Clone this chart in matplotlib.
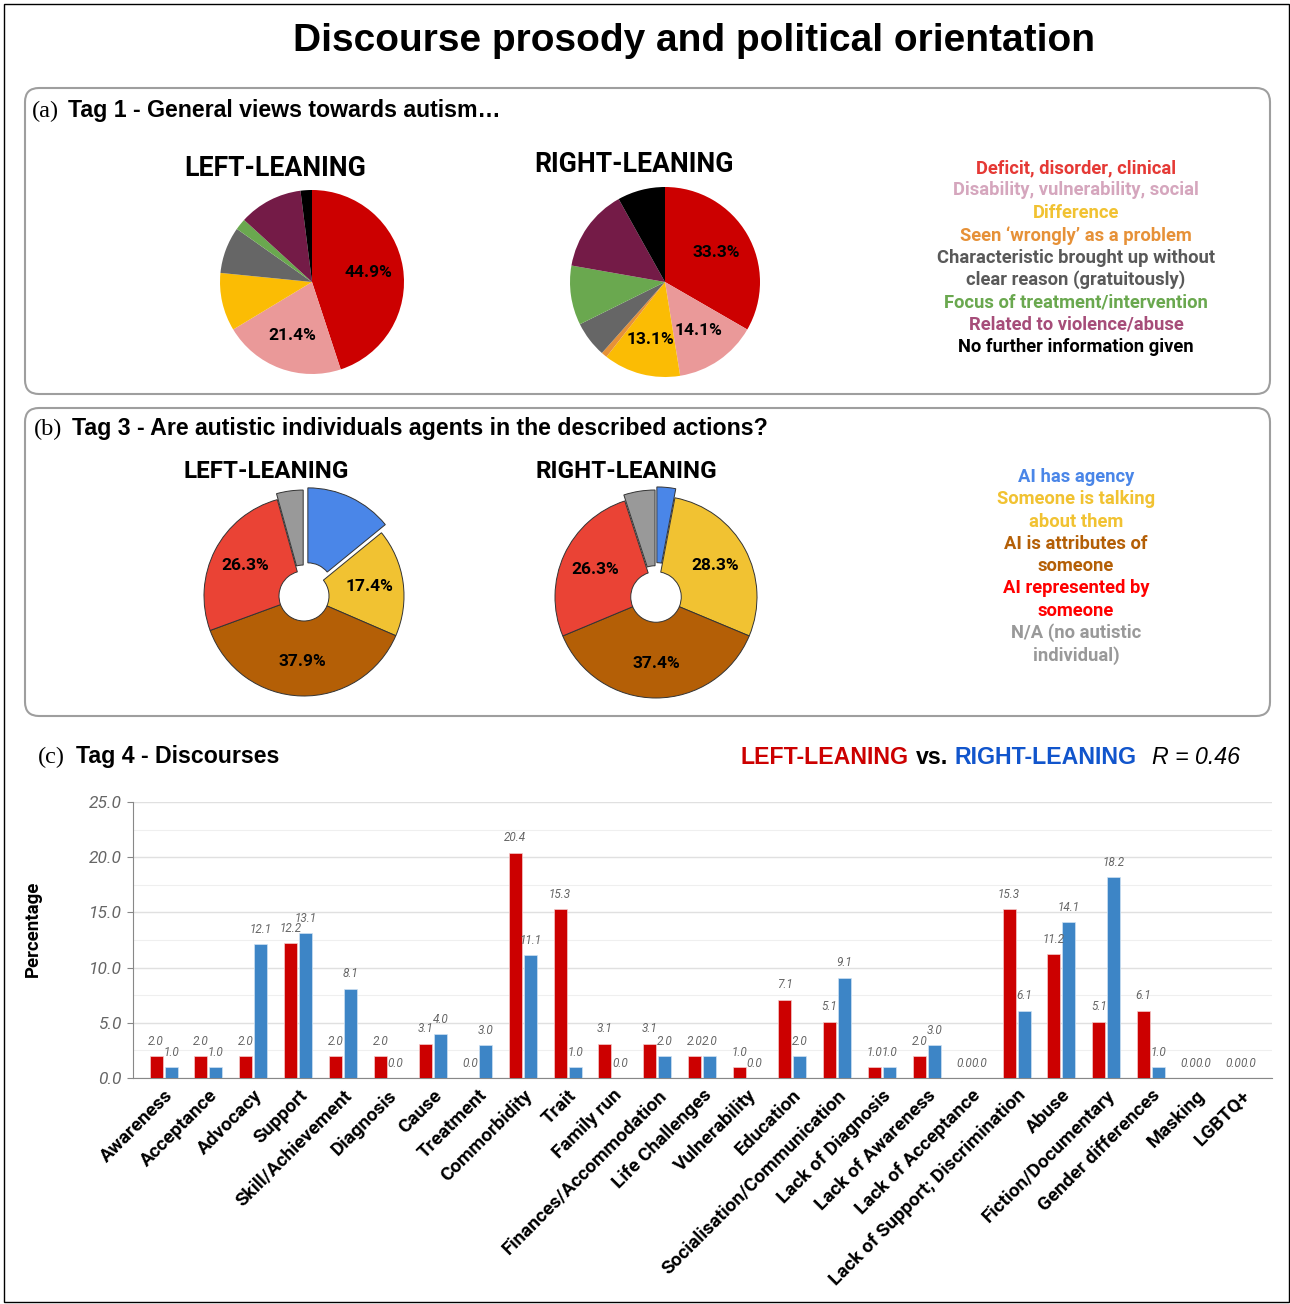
import matplotlib.pyplot as plt
import numpy as np
from matplotlib.patches import FancyBboxPatch, Rectangle

W, H = 1290, 1304

# (a) Tag 1 - general views
tag1_labels = ['Deficit, disorder, clinical', 'Disability, vulnerability, social', 'Difference',
               'Seen \u2018wrongly\u2019 as a problem',
               'Characteristic brought up without\nclear reason (gratuitously)',
               'Focus of treatment/intervention', 'Related to violence/abuse',
               'No further information given']
tag1_left = [44.9, 21.4, 10.2, 0.0, 8.2, 2.0, 11.2, 2.0]
tag1_right = [33.3, 14.1, 13.1, 1.0, 6.1, 10.1, 14.1, 8.1]
tag1_left_show = [0, 1]
tag1_right_show = [0, 1, 2]

# (b) Tag 3 - agency
tag3_labels = ['AI has agency', 'Someone is talking\nabout them', 'AI is attributes of\nsomeone',
               'AI represented by\nsomeone', 'N/A (no autistic\nindividual)']
tag3_left = [14.1, 17.4, 37.9, 26.3, 4.3]
tag3_right = [3.0, 28.3, 37.4, 26.3, 5.0]
tag3_show = [1, 2, 3]

# (c) Tag 4 - discourses
discourses = ['Awareness', 'Acceptance', 'Advocacy', 'Support', 'Skill/Achievement', 'Diagnosis',
              'Cause', 'Treatment', 'Commorbidity', 'Trait', 'Family run', 'Finances/Accommodation',
              'Life Challenges', 'Vulnerability', 'Education', 'Socialisation/Communication',
              'Lack of Diagnosis', 'Lack of Awareness', 'Lack of Acceptance',
              'Lack of Support; Discrimination', 'Abuse', 'Fiction/Documentary',
              'Gender differences', 'Masking', 'LGBTQ+']
left_pct = [2.0, 2.0, 2.0, 12.2, 2.0, 2.0, 3.1, 0.0, 20.4, 15.3, 3.1, 3.1, 2.0, 1.0, 7.1, 5.1,
            1.0, 2.0, 0.0, 15.3, 11.2, 5.1, 6.1, 0.0, 0.0]
right_pct = [1.0, 1.0, 12.1, 13.1, 8.1, 0.0, 4.0, 3.0, 11.1, 1.0, 0.0, 2.0, 2.0, 0.0, 2.0, 9.1,
             1.0, 3.0, 0.0, 6.1, 14.1, 18.2, 1.0, 0.0, 0.0]

tag1_wedge_colors = ['#cc0000', '#ea9999', '#fbbc04', '#e69138', '#666666', '#6aa84f', '#741b47', '#000000']
tag1_text_colors = ['#e53935', '#d5a6bd', '#f1c232', '#e69138', '#595959', '#6aa84f', '#a64d79', '#000000']
tag3_colors = ['#4a86e8', '#f1c232', '#b45f06', '#ea4335', '#999999']
tag3_text_colors = ['#4a86e8', '#f1c232', '#b45f06', '#ff0000', '#999999']


def fx(px):
    return px / W


def fy(py):
    return 1 - py / H


def pie_axes(fig, cx, cy, r):
    s = 2.4 * r
    ax = fig.add_axes([fx(cx - s / 2), fy(cy + s / 2), s / W, s / H])
    ax.axis('off')
    return ax


def fix_limits(ax):
    # pie() resets the limits, so set them afterwards
    ax.set_xlim(-1.2, 1.2)
    ax.set_ylim(-1.2, 1.2)
    ax.set_aspect('equal')


def pct_labels(ax, wedges, vals, show, dist):
    for i in show:
        w = wedges[i]
        ang = np.deg2rad((w.theta1 + w.theta2) / 2)
        cx, cy = w.center
        ax.text(cx + dist * np.cos(ang), cy + dist * np.sin(ang), '{:.1f}%'.format(vals[i]),
                ha='center', va='center', fontsize=12.5, fontweight='bold', family='Roboto')


fig = plt.figure(figsize=(W / 100, H / 100), dpi=100)

# outer frame
fig.patches.append(Rectangle((fx(4), fy(1302)), fx(1285), 1298 / H, transform=fig.transFigure,
                             fill=False, edgecolor='black', linewidth=1))

fig.text(fx(694), fy(41), 'Discourse prosody and political orientation', ha='center', va='center',
         fontsize=28, fontweight='bold', family='Liberation Sans')

# panel boxes
for top, bottom in [(88, 394), (408, 716)]:
    box = FancyBboxPatch((25 / 100, (H - bottom) / 100), 1245 / 100, (bottom - top) / 100,
                         boxstyle='round,pad=0,rounding_size=0.14', transform=fig.dpi_scale_trans,
                         fill=False, edgecolor='#9e9e9e', linewidth=1.5)
    fig.patches.append(box)

for lx, tx, y, lab, txt in [(32, 68, 111, '(a)', 'Tag 1 - General views towards autism\u2026'),
                            (34, 72, 429, '(b)', 'Tag 3 - Are autistic individuals agents in the described actions?'),
                            (38, 76, 757, '(c)', 'Tag 4 - Discourses')]:
    fig.text(fx(lx), fy(y), lab, ha='left', va='center', fontsize=17.5, family='Liberation Serif')
    fig.text(fx(tx), fy(y), txt, ha='left', va='center', fontsize=16.7, fontweight='bold',
             family='Liberation Sans')

# ---- (a) pies
ax = pie_axes(fig, 312, 282, 92)
wedges, _ = ax.pie(tag1_left, colors=tag1_wedge_colors, startangle=90, counterclock=False)
fix_limits(ax)
pct_labels(ax, wedges, tag1_left, tag1_left_show, 0.62)
fig.text(fx(275), fy(168), 'LEFT-LEANING', ha='center', va='center', fontsize=19.2,
         fontweight='bold', family='Roboto')

ax = pie_axes(fig, 665, 282, 95)
wedges, _ = ax.pie(tag1_right, colors=tag1_wedge_colors, startangle=90, counterclock=False)
fix_limits(ax)
pct_labels(ax, wedges, tag1_right, tag1_right_show, 0.62)
fig.text(fx(634), fy(165), 'RIGHT-LEANING', ha='center', va='center', fontsize=19.2,
         fontweight='bold', family='Roboto')

y = 168
for lab, col in zip(tag1_labels, tag1_text_colors):
    for line in lab.split('\n'):
        fig.text(fx(1076), fy(y), line, ha='center', va='center', fontsize=13.2, fontweight='bold',
                 family='Roboto', color=col)
        y += 22.4

# ---- (b) donuts
ax = pie_axes(fig, 304, 596, 100)
wedges, _ = ax.pie(tag3_left, colors=tag3_colors, startangle=90, counterclock=False,
                   explode=[0.09, 0, 0, 0, 0.06],
                   wedgeprops=dict(width=0.75, edgecolor='#333333', linewidth=0.7))
fix_limits(ax)
pct_labels(ax, wedges, tag3_left, tag3_show, 0.66)
fig.text(fx(266), fy(472), 'LEFT-LEANING', ha='center', va='center', fontsize=17.5,
         fontweight='bold', family='Roboto')

ax = pie_axes(fig, 656, 597, 101)
wedges, _ = ax.pie(tag3_right, colors=tag3_colors, startangle=90, counterclock=False,
                   explode=[0.09, 0, 0, 0, 0.06],
                   wedgeprops=dict(width=0.75, edgecolor='#333333', linewidth=0.7))
fix_limits(ax)
pct_labels(ax, wedges, tag3_right, tag3_show, 0.66)
fig.text(fx(626), fy(472), 'RIGHT-LEANING', ha='center', va='center', fontsize=17.5,
         fontweight='bold', family='Roboto')

y = 477
for lab, col in zip(tag3_labels, tag3_text_colors):
    for line in lab.split('\n'):
        fig.text(fx(1076), fy(y), line, ha='center', va='center', fontsize=13.2, fontweight='bold',
                 family='Roboto', color=col)
        y += 22.3

# ---- (c) header on the right
fig.text(fx(740), fy(757), 'LEFT-LEANING', ha='left', va='center', fontsize=16.7, fontweight='bold',
         family='Liberation Sans', color='#cc0000')
fig.text(fx(916), fy(757), 'vs.', ha='left', va='center', fontsize=16.7, fontweight='bold',
         family='Liberation Sans', color='black')
fig.text(fx(955), fy(757), 'RIGHT-LEANING', ha='left', va='center', fontsize=16.7, fontweight='bold',
         family='Liberation Sans', color='#1155cc')
fig.text(fx(1152), fy(757), 'R = 0.46', ha='left', va='center', fontsize=16.7, style='italic',
         family='Liberation Sans', color='black')

# ---- (c) bars
bx = fig.add_axes([fx(133), fy(1078), (1272 - 133) / W, (1078 - 802) / H])
x = np.arange(len(discourses))
bw = 0.29
off = 0.167
b1 = bx.bar(x - off, left_pct, bw, color='#cc0000', edgecolor='#f4cccc', linewidth=0.5, zorder=3)
b2 = bx.bar(x + off, right_pct, bw, color='#3d85c6', edgecolor='#cfe2f3', linewidth=0.5, zorder=3)
for bars in (b1, b2):
    bx.bar_label(bars, fmt='%.1f', padding=6, fontsize=8.5, style='italic', color='#666666',
                 family='Roboto')

bx.set_xlim(-0.68, 24.69)
bx.set_ylim(0, 25)
bx.set_yticks(np.arange(0, 25.1, 5))
bx.set_yticks(np.arange(2.5, 25, 5), minor=True)
bx.set_yticklabels(['{:.1f}'.format(v) for v in np.arange(0, 25.1, 5)], fontsize=12.5,
                   style='italic', color='#666666', family='Roboto')
bx.grid(axis='y', which='major', color='#e0e0e0', linewidth=1, zorder=0)
bx.grid(axis='y', which='minor', color='#efefef', linewidth=0.8, zorder=0)
bx.tick_params(axis='y', which='major', length=4, color='#888888', pad=4)
bx.tick_params(axis='y', which='minor', length=0)
bx.set_xticks(x)
bx.set_xticklabels(discourses, rotation=45, ha='right', rotation_mode='anchor', fontsize=13.7,
                   fontweight='bold', family='Roboto')
bx.tick_params(axis='x', length=0, pad=6)
for s in ('top', 'right'):
    bx.spines[s].set_visible(False)
bx.spines['left'].set_color('#888888')
bx.spines['bottom'].set_color('#888888')
bx.set_axisbelow(True)
bx.set_ylabel('Percentage', fontsize=13.4, fontweight='bold', family='Roboto')
bx.yaxis.set_label_coords(-0.08, 0.54)

plt.savefig('out.png', dpi=100)
